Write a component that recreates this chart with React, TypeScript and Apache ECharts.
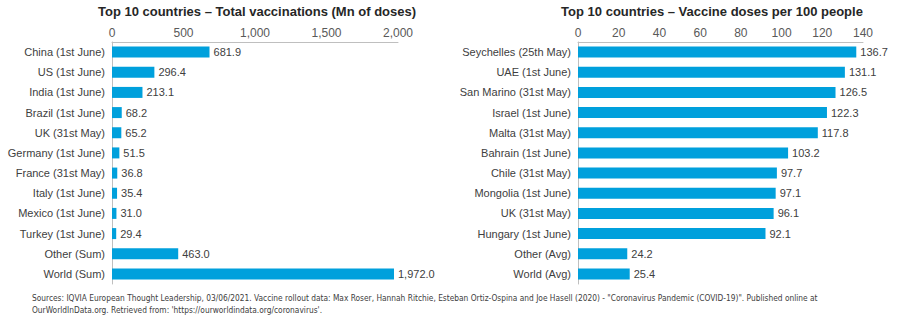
import React, { useEffect, useRef } from "react";
import * as echarts from "echarts";

const leftCategories = [
  "China (1st June)",
  "US (1st June)",
  "India (1st June)",
  "Brazil (1st June)",
  "UK (31st May)",
  "Germany (1st June)",
  "France (31st May)",
  "Italy (1st June)",
  "Mexico (1st June)",
  "Turkey (1st June)",
  "Other (Sum)",
  "World (Sum)",
];
const leftValues = [681.9, 296.4, 213.1, 68.2, 65.2, 51.5, 36.8, 35.4, 31.0, 29.4, 463.0, 1972.0];

const rightCategories = [
  "Seychelles (25th May)",
  "UAE (1st June)",
  "San Marino (31st May)",
  "Israel (1st June)",
  "Malta (31st May)",
  "Bahrain (1st June)",
  "Chile (31st May)",
  "Mongolia (1st June)",
  "UK (31st May)",
  "Hungary (1st June)",
  "Other (Avg)",
  "World (Avg)",
];
const rightValues = [136.7, 131.1, 126.5, 122.3, 117.8, 103.2, 97.7, 97.1, 96.1, 92.1, 24.2, 25.4];

const leftTitle = "Top 10 countries – Total vaccinations (Mn of doses)";
const rightTitle = "Top 10 countries – Vaccine doses per 100 people";
const sourceLine1 =
  "Sources: IQVIA European Thought Leadership, 03/06/2021. Vaccine rollout data: Max Roser, Hannah Ritchie, Esteban Ortiz-Ospina and Joe Hasell (2020) - \"Coronavirus Pandemic (COVID-19)\". Published online at";
const sourceLine2 = "OurWorldInData.org. Retrieved from: 'https://ourworldindata.org/coronavirus'.";

const BAR = "#00a0dc";
const FONT = "Liberation Sans, Arial, sans-serif";
const NARROW = "8.3px 'Liberation Sans Narrow', 'DejaVu Sans Condensed', Arial, sans-serif";

const fmt = (v: number, d: number) =>
  v.toLocaleString("en-US", { minimumFractionDigits: d, maximumFractionDigits: d });

export default function App() {
  const ref = useRef<HTMLDivElement>(null);
  useEffect(() => {
    if (!ref.current) return;
    const chart = echarts.init(ref.current, undefined, { renderer: "svg" });
    const xAxisCommon = {
      type: "value" as const,
      position: "top" as const,
      axisLine: { show: true, lineStyle: { color: "#bfbfbf", width: 1 } },
      axisTick: { show: false },
      splitLine: { show: false },
      axisLabel: {
        color: "#595959",
        fontFamily: FONT,
        fontSize: 12,
        margin: 3,
        formatter: (v: number) => fmt(v, 0),
      },
    };
    const yAxisCommon = {
      type: "category" as const,
      inverse: true,
      axisLine: { show: true, lineStyle: { color: "#bfbfbf", width: 1 } },
      axisTick: { show: false },
      axisLabel: { color: "#404040", fontFamily: FONT, fontSize: 11, margin: 7 },
    };
    const labelCommon = {
      show: true,
      position: "right" as const,
      distance: 4,
      color: "#404040",
      fontFamily: FONT,
      fontSize: 11,
    };
    const titleStyle = { fontFamily: FONT, fontSize: 13, fontWeight: "bold" as const, color: "#262626" };
    chart.setOption({
      animation: false,
      title: [
        { text: leftTitle, left: 257, top: 5, textAlign: "center", padding: 0, textStyle: titleStyle },
        { text: rightTitle, left: 712, top: 5, textAlign: "center", padding: 0, textStyle: titleStyle },
      ],
      grid: [
        { left: 112, right: 502, top: 42, bottom: 42 },
        { left: 578, right: 37, top: 42, bottom: 42 },
      ],
      xAxis: [
        { ...xAxisCommon, gridIndex: 0, min: 0, max: 2000, interval: 500 },
        { ...xAxisCommon, gridIndex: 1, min: 0, max: 140, interval: 20 },
      ],
      yAxis: [
        { ...yAxisCommon, gridIndex: 0, data: leftCategories },
        { ...yAxisCommon, gridIndex: 1, data: rightCategories },
      ],
      series: [
        {
          type: "bar",
          xAxisIndex: 0,
          yAxisIndex: 0,
          data: leftValues,
          barWidth: 11,
          itemStyle: { color: BAR },
          label: { ...labelCommon, formatter: (p: any) => fmt(p.value, 1) },
        },
        {
          type: "bar",
          xAxisIndex: 1,
          yAxisIndex: 1,
          data: rightValues,
          barWidth: 11,
          itemStyle: { color: BAR },
          label: { ...labelCommon, formatter: (p: any) => fmt(p.value, 1) },
        },
      ],
      graphic: [
        {
          type: "text",
          left: 32,
          top: 294,
          style: { text: sourceLine1, fill: "#404040", font: NARROW },
        },
        {
          type: "text",
          left: 32,
          top: 306,
          style: { text: sourceLine2, fill: "#404040", font: NARROW },
        },
      ],
    });
    return () => chart.dispose();
  }, []);
  return <div ref={ref} style={{ width: 900, height: 326, position: "absolute", left: 0, top: 0 }} />;
}
